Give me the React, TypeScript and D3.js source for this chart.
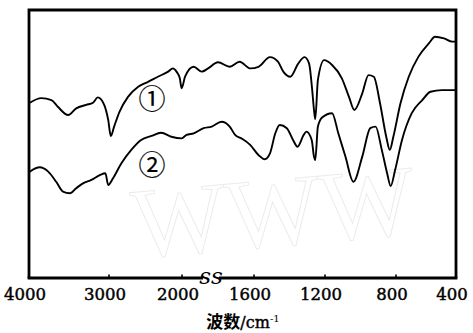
import { useEffect, useRef } from 'react'
import * as d3 from 'd3'

// IR spectra of samples ① and ②, wavenumber (cm-1) vs transmittance (arb. %)
const series1: [number, number][] = [
  [3990, 65.4], [3845, 67.1], [3720, 66.4], [3640, 63.9], [3510, 60.8], [3410, 63.3],
  [3285, 64.6], [3200, 65.4], [3140, 67.4], [3060, 64.6], [3010, 59.0], [2975, 53.0],
  [2930, 56.5], [2855, 62.1], [2740, 67.6], [2600, 71.4], [2465, 73.2], [2330, 75.1],
  [2190, 77.0], [2125, 78.2], [2075, 77.0], [2030, 74.5], [2005, 70.8], [1983, 75.1],
  [1935, 78.8], [1890, 77.0], [1855, 78.2], [1800, 80.5], [1735, 78.8], [1680, 80.7],
  [1620, 78.2], [1575, 78.8], [1510, 82.4], [1465, 80.7], [1435, 77.0], [1395, 75.1],
  [1350, 80.1], [1315, 82.4], [1290, 80.1], [1272, 70.1], [1262, 62.7], [1255, 59.3],
  [1240, 73.9], [1205, 81.3], [1160, 79.5], [1105, 74.5], [1065, 67.6], [1035, 62.7],
  [990, 68.9], [955, 75.7], [925, 75.1], [890, 65.2], [855, 52.7], [835, 47.8],
  [815, 52.7], [770, 65.2], [715, 75.1], [650, 82.6], [580, 87.6], [540, 90.0],
  [480, 89.4], [425, 88.2], [400, 88.2],
]

const series2: [number, number][] = [
  [3990, 39.7], [3865, 41.3], [3760, 39.7], [3660, 35.9], [3575, 32.2], [3490, 31.6],
  [3410, 33.5], [3325, 35.3], [3220, 36.6], [3115, 38.4], [3045, 39.1], [3010, 34.7],
  [2945, 37.2], [2830, 42.8], [2695, 47.8], [2560, 51.5], [2420, 53.0], [2285, 54.2],
  [2145, 52.7], [2005, 52.1], [1975, 53.4], [1935, 54.0], [1880, 55.9], [1835, 56.5],
  [1780, 58.3], [1735, 56.5], [1705, 53.4], [1670, 52.1], [1620, 49.6], [1575, 45.9],
  [1540, 44.3], [1510, 46.5], [1480, 54.0], [1455, 57.1], [1415, 55.9], [1380, 51.5],
  [1355, 49.0], [1320, 53.4], [1305, 54.6], [1275, 51.5], [1262, 45.3], [1255, 44.0],
  [1240, 56.5], [1215, 60.0], [1160, 61.5], [1125, 54.0], [1085, 45.3], [1040, 35.9],
  [990, 45.3], [945, 55.9], [915, 56.5], [880, 47.8], [850, 39.1], [830, 34.3],
  [805, 40.3], [760, 51.5], [695, 61.5], [625, 66.4], [570, 69.5], [495, 70.1],
  [400, 70.1],
]

// broken axis: 4000-2000 compressed, 2000-400 expanded
const xTicks = [4000, 3000, 2000, 1600, 1200, 800, 400]
const xTickPos = [29, 109, 182, 254, 325, 396, 456]
const curveLabels = [
  { text: '①', wn: 2410, v: 67.3 },
  { text: '②', wn: 2410, v: 42.7 },
]

export default function App() {
  const svgRef = useRef<SVGSVGElement | null>(null)
  const W = 473, H = 333

  useEffect(() => {
    const svg = d3.select(svgRef.current)
    svg.selectAll('*').remove()
    svg.attr('width', W).attr('height', H).style('background', '#fff')

    const left = 29, right = 456, top = 10, bottom = 278
    const x = d3.scaleLinear().domain(xTicks).range(xTickPos)
    const y = d3.scaleLinear().domain([0, 100]).range([bottom, top])

    // faint watermark
    svg.append('text').attr('x', 135).attr('y', 258).attr('transform', 'rotate(-5, 135, 258)')
      .attr('font-family', 'Liberation Serif').attr('font-size', 100).attr('fill', 'none')
      .attr('stroke', '#ececec').attr('stroke-width', 1).text('WWW')

    // frame (top, left, right)
    svg.append('path').attr('d', `M${left},${bottom}V${top}H${right}V${bottom}`)
      .attr('fill', 'none').attr('stroke', '#000').attr('stroke-width', 2.8)
    // bottom axis with break
    svg.append('line').attr('x1', left - 1.4).attr('x2', 203).attr('y1', bottom).attr('y2', bottom)
      .attr('stroke', '#000').attr('stroke-width', 2.8)
    svg.append('line').attr('x1', 219).attr('x2', right + 1.4).attr('y1', bottom).attr('y2', bottom)
      .attr('stroke', '#000').attr('stroke-width', 2.8)
    svg.append('text').attr('x', 211).attr('y', 284).attr('text-anchor', 'middle')
      .attr('font-family', 'DejaVu Serif').attr('font-style', 'italic').attr('font-size', 23)
      .attr('fill', '#000').text('ss')

    // tick dots and labels
    xTicks.forEach(t => {
      if (t !== 4000 && t !== 400) {
        svg.append('line').attr('x1', x(t)).attr('x2', x(t)).attr('y1', bottom - 1).attr('y2', bottom - 3.5)
          .attr('stroke', '#000').attr('stroke-width', 1.6)
      }
      svg.append('text').attr('x', x(t) - 4).attr('y', 300).attr('text-anchor', 'middle')
        .attr('font-family', 'DejaVu Serif').attr('font-size', 16.5).attr('fill', '#000')
        .attr('stroke', '#000').attr('stroke-width', 0.45).text(t)
    })

    // axis title
    const title = svg.append('text').attr('x', 243).attr('y', 328).attr('text-anchor', 'middle').attr('fill', '#000')
    title.append('tspan').attr('font-family', 'Noto Sans CJK SC').attr('font-weight', 'bold').attr('font-size', 17).text('波数')
    title.append('tspan').attr('font-family', 'DejaVu Serif').attr('font-size', 16)
      .attr('stroke', '#000').attr('stroke-width', 0.4).text('/cm')
    title.append('tspan').attr('font-family', 'DejaVu Serif').attr('font-size', 10).attr('dy', -6).text('-1')

    // spectra
    const line = d3.line<[number, number]>().x(d => x(d[0])).y(d => y(d[1])).curve(d3.curveMonotoneX)
    ;[series1, series2].forEach(s => {
      svg.append('path').datum(s).attr('fill', 'none').attr('stroke', '#000')
        .attr('stroke-width', 1.9).attr('stroke-linejoin', 'round').attr('d', line)
    })

    curveLabels.forEach(c => {
      svg.append('text').attr('x', x(c.wn)).attr('y', y(c.v)).attr('text-anchor', 'middle')
        .attr('dominant-baseline', 'central').attr('font-family', 'Noto Sans CJK SC')
        .attr('font-size', 27).attr('fill', '#000').attr('stroke', '#000').attr('stroke-width', 0.2)
        .text(c.text)
    })
  }, [])

  return (
    <svg ref={svgRef} style={{ position: 'absolute', left: 0, top: 0 }} />
  )
}
